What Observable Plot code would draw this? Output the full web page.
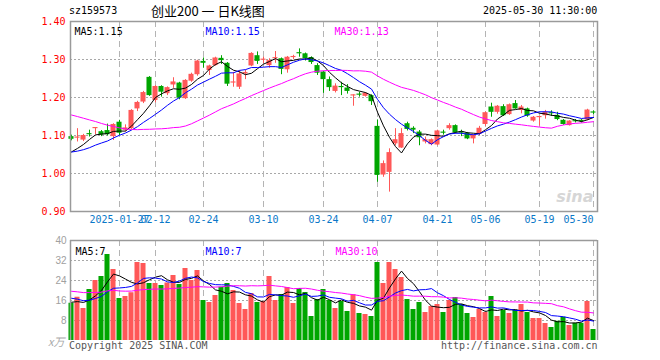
<!DOCTYPE html>
<html>
<head>
<meta charset="utf-8">
<script src="https://cdn.jsdelivr.net/npm/d3@7"></script>
<script src="https://cdn.jsdelivr.net/npm/@observablehq/plot@0.6"></script>
<style>
  body { margin: 0; background: #fff; }
  #wrap { position: relative; width: 660px; height: 360px; overflow: hidden; }
  .t { position: absolute; white-space: pre; font-family: "DejaVu Sans Mono", monospace; font-size: 10px; line-height: 12px; }
  #chartTop, #chartBot { position: absolute; left: 0; }
  #chartTop { top: 0; }
  #chartBot { top: 232px; }
</style>
</head>
<body>
<div id="wrap">
  <div id="chartTop"></div>
  <div id="chartBot"></div>
  <div class="t" style="left:69px;top:5px;color:#000">sz159573</div>
  <div class="t" style="left:151px;top:3px;font-family:'Noto Sans CJK SC',sans-serif;font-size:13px;line-height:16px;color:#000">创业200 一 日K线图</div>
  <div class="t" style="left:483px;top:5px;width:114px;text-align:right;color:#000">2025-05-30 11:30:00</div>
  <div class="t" style="left:48px;top:334px;font-family:'Noto Sans CJK SC',sans-serif;font-size:11px;line-height:14px;color:#aaa;font-style:italic">x万</div>
  <div class="t" style="left:69px;top:340px;color:#555">Copyright 2025 SINA.COM</div>
  <div class="t" style="left:441px;top:340px;width:156px;text-align:right;color:#555">http://finance.sina.com.cn</div>
</div>
<script>
const dates = [
"2025-01-15","2025-01-16","2025-01-17","2025-01-20","2025-01-21","2025-01-22","2025-01-23","2025-01-24","2025-01-27",
"2025-02-05","2025-02-06","2025-02-07","2025-02-10","2025-02-11","2025-02-12","2025-02-13","2025-02-14","2025-02-17","2025-02-18","2025-02-19","2025-02-20","2025-02-21","2025-02-24","2025-02-25","2025-02-26","2025-02-27","2025-02-28",
"2025-03-03","2025-03-04","2025-03-05","2025-03-06","2025-03-07","2025-03-10","2025-03-11","2025-03-12","2025-03-13","2025-03-14","2025-03-17","2025-03-18","2025-03-19","2025-03-20","2025-03-21","2025-03-24","2025-03-25","2025-03-26","2025-03-27","2025-03-28","2025-03-31",
"2025-04-01","2025-04-02","2025-04-03","2025-04-07","2025-04-08","2025-04-09","2025-04-10","2025-04-11","2025-04-14","2025-04-15","2025-04-16","2025-04-17","2025-04-18","2025-04-21","2025-04-22","2025-04-23","2025-04-24","2025-04-25","2025-04-28","2025-04-29","2025-04-30",
"2025-05-06","2025-05-07","2025-05-08","2025-05-09","2025-05-12","2025-05-13","2025-05-14","2025-05-15","2025-05-16","2025-05-19","2025-05-20","2025-05-21","2025-05-22","2025-05-23","2025-05-26","2025-05-27","2025-05-28","2025-05-29","2025-05-30"];

const open = [1.097,1.093,1.088,1.104,1.118,1.110,1.113,1.097,1.135,1.114,
1.118,1.170,1.188,1.253,1.192,1.229,1.210,1.233,1.238,1.197,
1.243,1.260,1.295,1.271,1.284,1.303,1.290,1.238,1.227,1.262,
1.283,1.310,1.298,1.284,1.302,1.302,1.273,1.305,1.317,1.315,
1.305,1.284,1.267,1.247,1.216,1.228,1.225,1.204,1.208,1.203,
1.205,1.124,0.996,1.003,1.078,1.067,1.131,1.119,1.109,1.083,
1.076,1.075,1.108,1.118,1.126,1.108,1.106,1.091,1.103,1.129,
1.175,1.161,1.176,1.155,1.184,1.166,1.170,1.138,1.147,1.152,
1.159,1.153,1.140,1.126,1.138,1.140,1.141,1.161];

const high = [1.101,1.118,1.103,1.114,1.121,1.113,1.130,1.131,1.140,1.128,
1.168,1.190,1.216,1.255,1.231,1.231,1.228,1.252,1.240,1.247,
1.264,1.298,1.304,1.285,1.306,1.310,1.292,1.266,1.270,1.272,
1.318,1.320,1.306,1.302,1.321,1.304,1.308,1.311,1.328,1.317,
1.307,1.289,1.269,1.254,1.236,1.240,1.234,1.207,1.214,1.213,
1.207,1.141,1.033,1.065,1.118,1.118,1.135,1.123,1.113,1.096,
1.091,1.114,1.114,1.131,1.128,1.114,1.108,1.102,1.124,1.162,
1.185,1.179,1.181,1.183,1.192,1.179,1.172,1.150,1.150,1.166,
1.165,1.161,1.142,1.139,1.142,1.142,1.169,1.165];

const low = [1.086,1.083,1.084,1.096,1.102,1.097,1.099,1.087,1.100,1.110,
1.116,1.163,1.184,1.203,1.186,1.201,1.205,1.224,1.194,1.195,
1.240,1.256,1.277,1.258,1.282,1.287,1.229,1.227,1.221,1.247,
1.281,1.287,1.289,1.277,1.290,1.260,1.264,1.300,1.306,1.296,
1.287,1.258,1.211,1.216,1.212,1.205,1.209,1.177,1.201,1.201,
1.179,0.977,0.990,0.951,1.073,1.066,1.112,1.105,1.073,1.078,
1.073,1.073,1.101,1.114,1.104,1.097,1.089,1.078,1.100,1.124,
1.148,1.156,1.150,1.153,1.169,1.157,1.148,1.135,1.125,1.143,
1.150,1.139,1.127,1.125,1.133,1.133,1.139,1.155];

const close = [1.090,1.096,1.100,1.102,1.120,1.101,1.102,1.129,1.106,1.120,
1.166,1.187,1.213,1.205,1.229,1.214,1.226,1.241,1.198,1.245,
1.261,1.296,1.290,1.283,1.304,1.297,1.235,1.240,1.262,1.266,
1.316,1.295,1.300,1.297,1.304,1.274,1.306,1.308,1.315,1.302,
1.292,1.264,1.247,1.226,1.230,1.226,1.216,1.206,1.206,1.211,
1.189,0.995,1.026,1.055,1.089,1.105,1.116,1.114,1.094,1.089,
1.089,1.112,1.106,1.126,1.107,1.106,1.091,1.100,1.119,1.160,
1.161,1.177,1.152,1.181,1.170,1.175,1.151,1.148,1.149,1.161,
1.157,1.142,1.129,1.138,1.136,1.137,1.167,1.159];

// volume, in 万
const volume = [14.9,17.3,12.8,20.4,24.0,25.6,34.4,28.4,16.8,17.6,
19.1,31.2,30.8,22.8,22.8,22.0,23.0,26.0,22.4,28.8,
24.0,28.0,16.0,15.2,18.0,21.3,22.8,20.0,14.8,12.4,
18.8,15.2,15.6,25.6,16.0,18.4,21.2,14.8,20.8,19.2,
9.6,16.4,20.4,16.0,12.8,15.6,11.6,18.3,10.8,10.4,
9.6,31.2,22.8,31.2,28.4,25.2,16.4,12.4,15.2,11.2,
13.6,14.4,11.2,16.0,17.2,14.4,10.8,9.2,12.4,11.2,
17.6,9.6,12.0,10.8,12.0,14.4,11.2,8.8,8.8,6.8,
5.2,7.7,9.3,6.0,6.9,6.9,15.6,4.4];

// sessions before the window (needed by the moving averages at the left edge)
const priorClose = [1.222,1.230,1.236,1.248,1.252,1.238,1.230,1.220,1.210,
1.198,1.205,1.190,1.196,1.205,1.200,1.192,1.182,1.170,1.146,
1.085,1.072,1.062,1.050,1.052,1.045,1.050,1.048,1.036,1.060];
const priorVolume = [24,22,20,23,21,19,22,25,20,18,21,23,19,20,22,21,20,19,22,20.6,
21,19,18,17.5,17,16,14.5,15.5,15.6];

const priceTicks = [1.40,1.30,1.20,1.10,1.00,0.90];
const priceGrid = [1.30,1.20,1.10,1.00];
const volTicks = [40,32,24,16,8];
const volGrid = [32,24,16,8];
const tickDates = ["2025-01-27","2025-02-12","2025-02-24","2025-03-10","2025-03-24","2025-04-07","2025-04-21","2025-05-06","2025-05-19","2025-05-30"];
const tickLabels = ["2025-01-27","02-12","02-24","03-10","03-24","04-07","04-21","05-06","05-19","05-30"];
const priceMaLabels = ["MA5:1.15","MA10:1.15","MA30:1.13"];
const volMaLabels = ["MA5:7","MA10:7","MA30:10"];
const maPeriods = [5,10,30];
const maColors = ["#000000","#0000ff","#ff00ff"];

const RED = "#ff5858", GREEN = "#00a600";
const n = dates.length;
const candles = dates.map((d, i) => ({
  i, date: d, open: open[i], high: high[i], low: low[i], close: close[i], vol: volume[i],
  color: close[i] >= open[i] ? RED : GREEN
}));

function movingAvg(prior, series, p) {
  const all = prior.concat(series);
  return series.map((_, i) => {
    const end = prior.length + i;
    return d3.mean(all.slice(end - p + 1, end + 1));
  });
}
const priceMA = maPeriods.map(p => movingAvg(priorClose, close, p).map((v, i) => ({i, v})));
const volMA = maPeriods.map(p => movingAvg(priorVolume, volume, p).map((v, i) => ({i, v})));

const xDomain = [-1/6, n - 1 + 2/3];
const gridIdx = tickDates.map(d => dates.indexOf(d));
const tickItems = tickLabels.map((t, k) => ({t, i: gridIdx[k]}));
const MONO = "DejaVu Sans Mono";
const hw = 0.42;

const priceChart = Plot.plot({
  width: 660, height: 232,
  marginTop: 21, marginBottom: 21, marginLeft: 70, marginRight: 63,
  x: {type: "linear", domain: xDomain, axis: null},
  y: {domain: [0.9, 1.4], axis: null},
  style: {background: "transparent", overflow: "visible"},
  marks: [
    Plot.ruleY(priceGrid, {stroke: "#a8a8a8", strokeDasharray: "2,2"}),
    Plot.ruleX(gridIdx, {stroke: "#b4b4b4", strokeDasharray: "6,4"}),
    Plot.text(["sina"], {text: d => d, frameAnchor: "bottom-right", dx: -4, dy: -10, fill: "#d6d6d6", fontSize: 16, fontWeight: "bold", fontStyle: "italic", fontFamily: "DejaVu Sans", textAnchor: "end"}),
    Plot.ruleX(candles, {x: "i", y1: "low", y2: "high", stroke: "color", strokeWidth: 1}),
    Plot.rect(candles, {
      x1: d => d.i - hw, x2: d => d.i + hw,
      y1: d => Math.min(d.open, d.close),
      y2: d => Math.max(d.open, d.close, Math.min(d.open, d.close) + 0.003),
      fill: "color"
    }),
    ...priceMA.map((m, k) => Plot.line(m, {x: "i", y: "v", stroke: maColors[k], strokeWidth: 1})),
    Plot.frame({stroke: "#9a9a9a", strokeWidth: 1.5}),
    Plot.text(priceTicks, {y: d => d, text: d => d.toFixed(2), frameAnchor: "left", textAnchor: "end", dx: -5, fill: "#ff0000", fontFamily: MONO, fontSize: 10}),
    Plot.text(tickItems.slice(0, -1), {x: "i", text: "t", frameAnchor: "bottom", dy: 11, fill: "#0a78c8", fontFamily: MONO, fontSize: 10}),
    Plot.text(tickItems.slice(-1), {x: "i", text: "t", frameAnchor: "bottom", dy: 11, textAnchor: "end", fill: "#0a78c8", fontFamily: MONO, fontSize: 10}),
    Plot.text([priceMaLabels[0]], {text: d => d, frameAnchor: "top-left", dx: 4, dy: 6, textAnchor: "start", fill: maColors[0], fontFamily: MONO, fontSize: 10}),
    Plot.text([priceMaLabels[1]], {text: d => d, frameAnchor: "top-left", dx: 135, dy: 6, textAnchor: "start", fill: maColors[1], fontFamily: MONO, fontSize: 10}),
    Plot.text([priceMaLabels[2]], {text: d => d, frameAnchor: "top-left", dx: 264, dy: 6, textAnchor: "start", fill: maColors[2], fontFamily: MONO, fontSize: 10})
  ]
});
document.getElementById("chartTop").appendChild(priceChart);

const volChart = Plot.plot({
  width: 660, height: 128,
  marginTop: 8, marginBottom: 20, marginLeft: 70, marginRight: 63,
  x: {type: "linear", domain: xDomain, axis: null},
  y: {domain: [0, 40], axis: null},
  style: {background: "transparent", overflow: "visible"},
  marks: [
    Plot.ruleY(volGrid, {stroke: "#a8a8a8", strokeDasharray: "2,2"}),
    Plot.ruleX(gridIdx, {stroke: "#b4b4b4", strokeDasharray: "6,4"}),
    Plot.rect(candles, {x1: d => d.i - hw, x2: d => d.i + hw, y1: 0, y2: "vol", fill: "color"}),
    ...volMA.map((m, k) => Plot.line(m, {x: "i", y: "v", stroke: maColors[k], strokeWidth: 1})),
    Plot.ruleY([40], {stroke: "#9a9a9a", strokeWidth: 1.5}),
    Plot.ruleX(xDomain, {stroke: "#9a9a9a", strokeWidth: 1.5}),
    Plot.text(volTicks, {y: d => d, text: d => String(d), frameAnchor: "left", textAnchor: "end", dx: -4, fill: "#a0a0a0", fontFamily: "Liberation Sans", fontSize: 10}),
    Plot.text([volMaLabels[0]], {text: d => d, frameAnchor: "top-left", dx: 5, dy: 7, textAnchor: "start", fill: maColors[0], fontFamily: MONO, fontSize: 10}),
    Plot.text([volMaLabels[1]], {text: d => d, frameAnchor: "top-left", dx: 135, dy: 7, textAnchor: "start", fill: maColors[1], fontFamily: MONO, fontSize: 10}),
    Plot.text([volMaLabels[2]], {text: d => d, frameAnchor: "top-left", dx: 265, dy: 7, textAnchor: "start", fill: maColors[2], fontFamily: MONO, fontSize: 10})
  ]
});
document.getElementById("chartBot").appendChild(volChart);
</script>
</body>
</html>
